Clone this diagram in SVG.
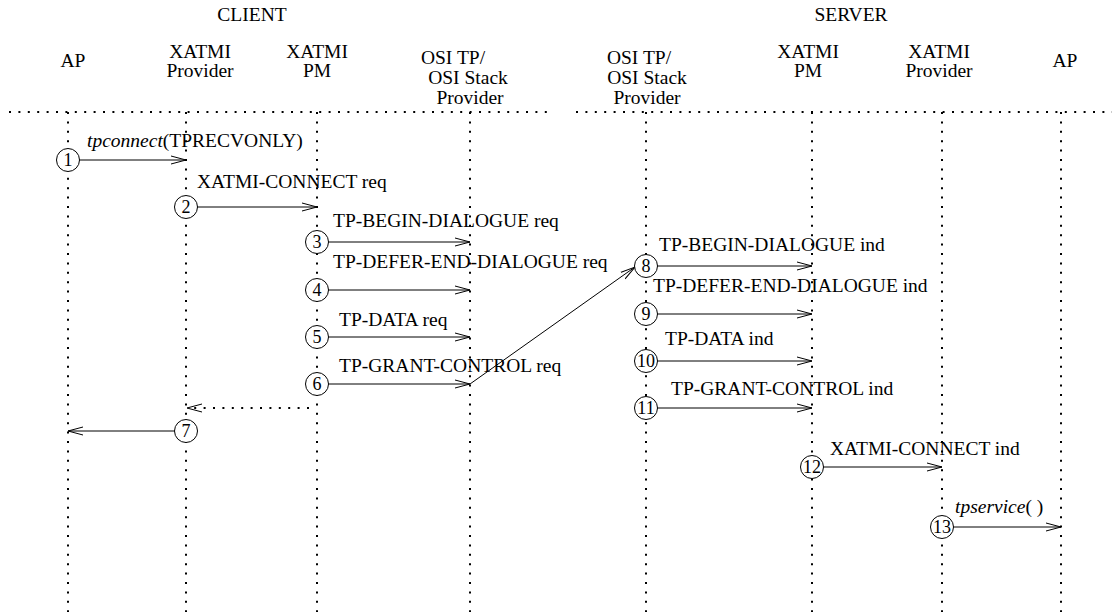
<svg xmlns="http://www.w3.org/2000/svg" width="1117" height="612" viewBox="0 0 1117 612" font-family="'Liberation Serif', serif">
<style>
.t{font-family:'Liberation Serif','Times New Roman',serif;font-size:19.5px;fill:#000}
.h{text-anchor:middle}
.n{font-family:'Liberation Serif','Times New Roman',serif;font-size:18px;text-anchor:middle;fill:#000}
.dot{stroke:#000;stroke-width:2;stroke-dasharray:2 7.4;fill:none}
.msg{stroke:#000;stroke-width:1;fill:none;marker-end:url(#a)}
.dmsg{stroke:#000;stroke-width:2;stroke-dasharray:2 7.4;fill:none;marker-end:url(#a)}
.c{fill:#fff;stroke:#000;stroke-width:1}
.i{font-style:italic}
</style>
<defs>
<marker id="a" markerUnits="userSpaceOnUse" viewBox="0 0 16 10" markerWidth="16" markerHeight="10" refX="15" refY="5" orient="auto">
<path d="M0,1 L15,5 L0,9" fill="none" stroke="#000" stroke-width="1" stroke-dasharray="none"/>
</marker>
</defs>
<g id="headers">
<text class="t h" x="252" y="21">CLIENT</text>
<text class="t h" x="851" y="21">SERVER</text>
<text class="t h" x="73" y="67">AP</text>
<text class="t h" x="200" y="58">XATMI</text>
<text class="t h" x="200" y="77">Provider</text>
<text class="t h" x="317" y="58">XATMI</text>
<text class="t h" x="317" y="77">PM</text>
<text class="t h" x="453" y="64">OSI TP/</text>
<text class="t h" x="468" y="84">OSI Stack</text>
<text class="t h" x="470" y="104">Provider</text>
<text class="t h" x="639" y="64">OSI TP/</text>
<text class="t h" x="647" y="84">OSI Stack</text>
<text class="t h" x="647" y="104">Provider</text>
<text class="t h" x="808" y="58">XATMI</text>
<text class="t h" x="808" y="77">PM</text>
<text class="t h" x="939" y="58">XATMI</text>
<text class="t h" x="939" y="77">Provider</text>
<text class="t h" x="1065" y="67">AP</text>
</g>
<g id="lifelines">
<line class="dot" x1="9" y1="112" x2="554" y2="112"/>
<line class="dot" x1="576" y1="112" x2="1112" y2="112"/>
<line class="dot" x1="68" y1="112" x2="68" y2="612"/>
<line class="dot" x1="186" y1="112" x2="186" y2="612"/>
<line class="dot" x1="317" y1="112" x2="317" y2="612"/>
<line class="dot" x1="470" y1="112" x2="470" y2="612"/>
<line class="dot" x1="646" y1="112" x2="646" y2="612"/>
<line class="dot" x1="812" y1="112" x2="812" y2="612"/>
<line class="dot" x1="942" y1="112" x2="942" y2="612"/>
<line class="dot" x1="1061" y1="112" x2="1061" y2="612"/>
</g>
<g id="connectors">
<line class="msg" x1="79" y1="160" x2="186" y2="160"/>
<line class="msg" x1="197" y1="207" x2="317" y2="207"/>
<line class="msg" x1="328" y1="242" x2="470" y2="242"/>
<line class="msg" x1="328" y1="290" x2="470" y2="290"/>
<line class="msg" x1="328" y1="337" x2="470" y2="337"/>
<line class="msg" x1="328" y1="384" x2="470" y2="384"/>
<line class="msg" x1="470" y1="384" x2="635" y2="267"/>
<line class="dmsg" x1="309" y1="408" x2="187" y2="408"/>
<line class="msg" x1="175" y1="431" x2="68" y2="431"/>
<line class="msg" x1="657" y1="266" x2="812" y2="266"/>
<line class="msg" x1="657" y1="314" x2="812" y2="314"/>
<line class="msg" x1="657" y1="361" x2="812" y2="361"/>
<line class="msg" x1="657" y1="408" x2="812" y2="408"/>
<line class="msg" x1="823" y1="467" x2="942" y2="467"/>
<line class="msg" x1="953" y1="527" x2="1061" y2="527"/>
</g>
<g id="labels">
<text class="t" x="87" y="147"><tspan class="i">tpconnect</tspan>(TPRECVONLY)</text>
<text class="t" x="197" y="188">XATMI-CONNECT req</text>
<text class="t" x="333" y="227">TP-BEGIN-DIALOGUE req</text>
<text class="t" x="333" y="268">TP-DEFER-END-DIALOGUE req</text>
<text class="t" x="339" y="326">TP-DATA req</text>
<text class="t" x="339" y="372">TP-GRANT-CONTROL req</text>
<text class="t" x="659" y="251">TP-BEGIN-DIALOGUE ind</text>
<text class="t" x="653" y="292">TP-DEFER-END-DIALOGUE ind</text>
<text class="t" x="665" y="345">TP-DATA ind</text>
<text class="t" x="671" y="395">TP-GRANT-CONTROL  ind</text>
<text class="t" x="830" y="455">XATMI-CONNECT ind</text>
<text class="t" x="955" y="513"><tspan class="i">tpservice</tspan>( )</text>
</g>
<g id="n1"><circle class="c" cx="68" cy="160" r="11.5"/><text class="n" x="68" y="166">1</text></g>
<g id="n2"><circle class="c" cx="186" cy="207" r="11.5"/><text class="n" x="186" y="213">2</text></g>
<g id="n3"><circle class="c" cx="317" cy="242" r="11.5"/><text class="n" x="317" y="248">3</text></g>
<g id="n4"><circle class="c" cx="317" cy="290" r="11.5"/><text class="n" x="317" y="296">4</text></g>
<g id="n5"><circle class="c" cx="317" cy="337" r="11.5"/><text class="n" x="317" y="343">5</text></g>
<g id="n6"><circle class="c" cx="317" cy="384" r="11.5"/><text class="n" x="317" y="390">6</text></g>
<g id="n7"><circle class="c" cx="186" cy="431" r="11.5"/><text class="n" x="186" y="437">7</text></g>
<g id="n8"><circle class="c" cx="646" cy="266" r="11.5"/><text class="n" x="646" y="272">8</text></g>
<g id="n9"><circle class="c" cx="646" cy="314" r="11.5"/><text class="n" x="646" y="320">9</text></g>
<g id="n10"><circle class="c" cx="646" cy="361" r="11.5"/><text class="n" x="646" y="367">10</text></g>
<g id="n11"><circle class="c" cx="646" cy="408" r="11.5"/><text class="n" x="646" y="414">11</text></g>
<g id="n12"><circle class="c" cx="812" cy="467" r="11.5"/><text class="n" x="812" y="473">12</text></g>
<g id="n13"><circle class="c" cx="942" cy="527" r="11.5"/><text class="n" x="942" y="533">13</text></g>
</svg>
